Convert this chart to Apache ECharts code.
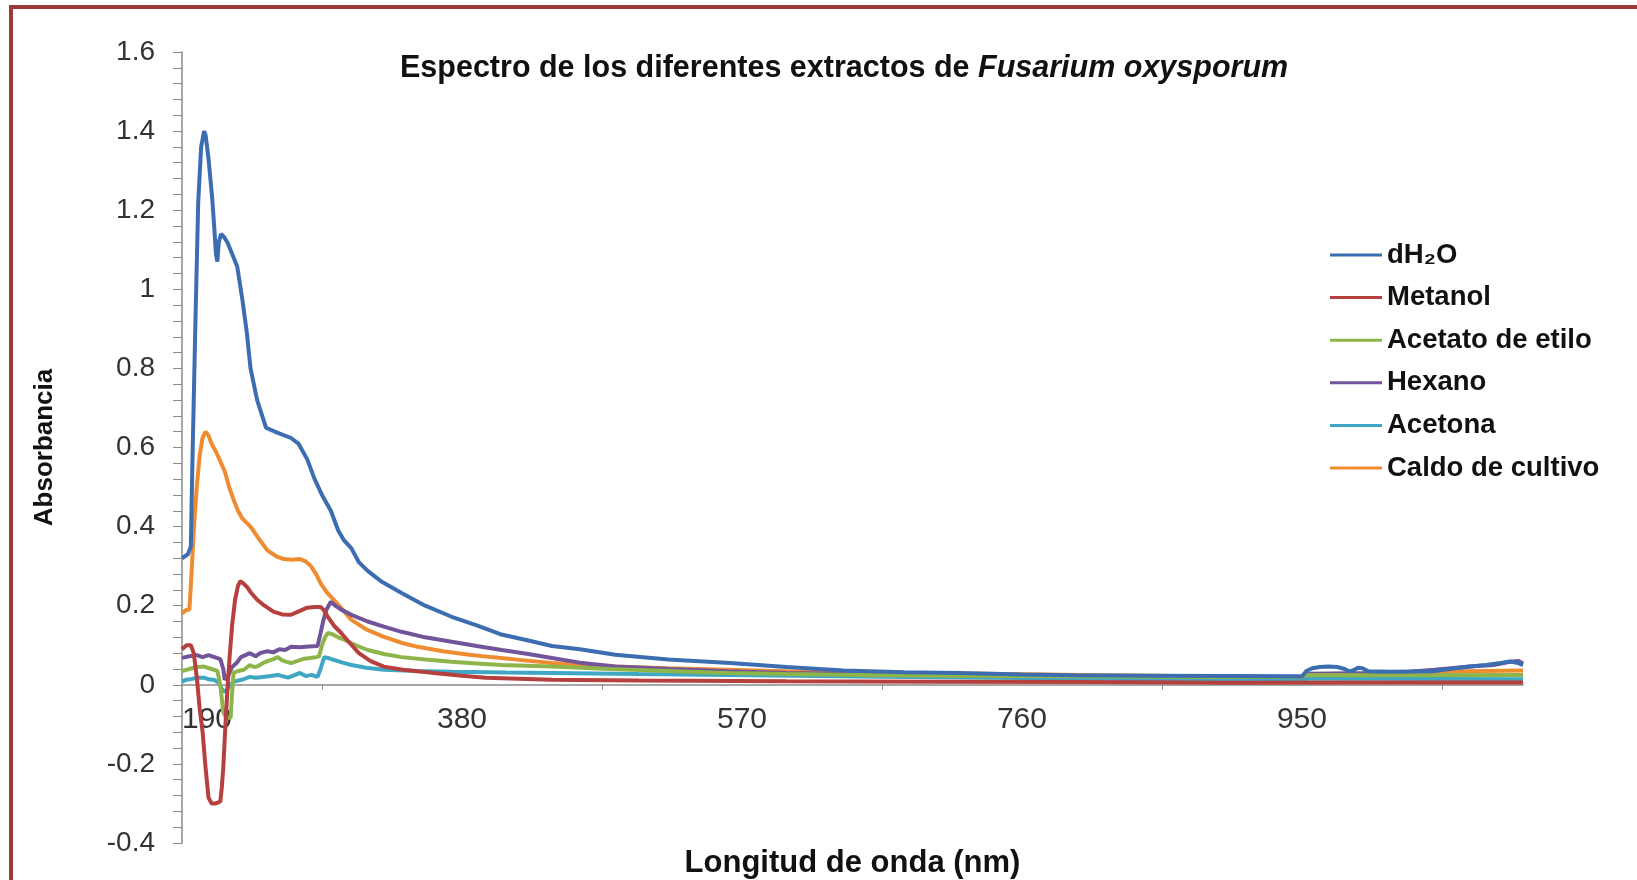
<!DOCTYPE html>
<html>
<head>
<meta charset="utf-8">
<script src="https://cdn.jsdelivr.net/npm/echarts@6/dist/echarts.min.js"></script>
<style>
  html, body { margin: 0; padding: 0; background: #fff; }
  #wrap { position: relative; width: 1637px; height: 880px; overflow: hidden; }
  #chart { position: absolute; left: 0; top: 0; width: 1637px; height: 880px; }
  #bt { position: absolute; left: 9px; top: 5px; width: 1628px; height: 4px; background: #9B3A37; }
  #bl { position: absolute; left: 9px; top: 5px; width: 4px; height: 875px; background: #9B3A37; }
</style>
</head>
<body>
<div id="wrap"><div id="chart"></div><div id="bt"></div><div id="bl"></div></div>
<script>
// ---- Data (wavelength nm, absorbance) ----
const seriesNames = ['dH\u2082O', 'Metanol', 'Acetato de etilo', 'Hexano', 'Acetona', 'Caldo de cultivo'];
const xLabelValues = [190, 380, 570, 760, 950];
const xTickValues = [285, 475, 665, 855, 1045];

const dH2O = [[190,0.32],[194,0.33],[196,0.35],[197,0.55],[199,0.9],[201,1.22],[203,1.36],[205,1.40],[206,1.39],[208,1.33],[210.5,1.23],[212,1.15],[213,1.09],[214,1.07],[215,1.12],[216.5,1.14],[219,1.13],[221,1.117],[224,1.09],[227.5,1.057],[231,0.973],[234,0.89],[236.5,0.80],[241,0.72],[247,0.65],[255,0.637],[264,0.624],[269,0.61],[275,0.57],[280,0.52],[285,0.48],[291,0.44],[296,0.39],[300,0.365],[305,0.345],[310,0.31],[316,0.288],[325,0.262],[339,0.232],[355,0.2],[373,0.172],[390,0.15],[406,0.128],[425,0.112],[441,0.098],[460,0.09],[484,0.076],[520,0.064],[562,0.055],[600,0.045],[639,0.036],[680,0.032],[717,0.03],[760,0.026],[795,0.024],[850,0.023],[900,0.022],[950,0.021],[953,0.035],[957,0.042],[962,0.045],[968,0.046],[974,0.045],[979,0.04],[982,0.034],[985,0.037],[988,0.043],[991,0.042],[995,0.034],[1010,0.033],[1039,0.034],[1050,0.04],[1064,0.046],[1075,0.05],[1085,0.055],[1091,0.059],[1096,0.056],[1100,0.05]];

const metanol = [[190,0.09],[193,0.1],[196,0.1],[198,0.08],[200,0.02],[202,-0.06],[204,-0.12],[206,-0.21],[208,-0.285],[210,-0.30],[213,-0.30],[216,-0.295],[217,-0.26],[218,-0.21],[219.5,-0.1],[221,0.0],[222.5,0.08],[224,0.15],[226,0.215],[228,0.25],[229.6,0.262],[232,0.255],[234,0.248],[237,0.232],[241,0.215],[246,0.2],[252,0.185],[258,0.178],[264,0.177],[270,0.187],[275,0.195],[280,0.197],[284,0.197],[286,0.19],[289,0.172],[293,0.15],[298,0.131],[304,0.105],[310,0.08],[318,0.06],[327,0.046],[340,0.038],[361,0.03],[380,0.023],[396,0.018],[441,0.013],[500,0.011],[600,0.009],[700,0.008],[800,0.007],[900,0.005],[1000,0.006],[1100,0.006]];

const acetato = [[190,0.035],[195,0.04],[200,0.045],[205,0.046],[210,0.04],[214,0.035],[216,0.0],[218,-0.07],[220,-0.083],[223,-0.083],[224,-0.02],[225,0.03],[228,0.035],[232,0.038],[236,0.05],[239,0.045],[241,0.046],[245,0.055],[248,0.06],[252,0.065],[255,0.07],[258,0.062],[261,0.058],[264,0.055],[268,0.06],[272,0.065],[277,0.068],[281,0.07],[283,0.072],[285,0.1],[287,0.12],[289,0.131],[292,0.128],[296,0.12],[300,0.114],[308,0.1],[316,0.088],[327,0.078],[339,0.07],[355,0.064],[373,0.058],[390,0.054],[407,0.05],[441,0.046],[480,0.04],[520,0.035],[560,0.03],[600,0.027],[650,0.025],[700,0.023],[760,0.022],[820,0.021],[880,0.02],[950,0.02],[953,0.025],[1000,0.024],[1100,0.025]];

const hexano = [[190,0.068],[195,0.072],[200,0.075],[204,0.07],[208,0.075],[212,0.07],[216,0.065],[218,0.04],[219,0.013],[221,0.02],[224,0.045],[227,0.055],[230,0.07],[233,0.075],[236,0.08],[240,0.072],[243,0.08],[248,0.085],[252,0.082],[256,0.09],[260,0.088],[264,0.096],[270,0.095],[276,0.097],[282,0.098],[284,0.13],[286,0.164],[288,0.19],[291,0.21],[294,0.2],[298,0.19],[305,0.177],[316,0.16],[327,0.147],[339,0.134],[355,0.12],[373,0.109],[390,0.098],[407,0.088],[425,0.078],[441,0.068],[460,0.056],[484,0.046],[520,0.04],[560,0.034],[600,0.03],[650,0.027],[700,0.025],[760,0.023],[820,0.022],[900,0.021],[950,0.021],[953,0.028],[1000,0.03],[1023,0.033],[1040,0.038],[1064,0.046],[1080,0.05],[1091,0.058],[1097,0.06],[1100,0.054]];

const acetona = [[190,0.008],[193,0.013],[197,0.015],[200,0.018],[205,0.018],[208,0.014],[212,0.012],[215,0.005],[217,-0.01],[219,-0.018],[221,-0.01],[223,0.0],[225,0.008],[230,0.012],[236,0.02],[240,0.018],[245,0.02],[250,0.022],[255,0.025],[258,0.022],[262,0.018],[266,0.024],[270,0.03],[274,0.022],[278,0.025],[282,0.02],[284,0.04],[286.5,0.07],[289,0.068],[293,0.063],[299,0.056],[305,0.05],[315,0.043],[327,0.038],[350,0.035],[373,0.033],[410,0.031],[441,0.03],[500,0.027],[560,0.025],[620,0.022],[700,0.019],[800,0.016],[900,0.012],[950,0.01],[953,0.015],[1000,0.015],[1100,0.014]];

const caldo = [[190,0.18],[193,0.19],[195,0.19],[196,0.25],[197,0.32],[198.5,0.42],[200,0.5],[202,0.58],[204,0.625],[206,0.64],[208,0.63],[210,0.61],[213,0.59],[216,0.565],[219,0.54],[222,0.5],[225,0.468],[228,0.44],[231,0.42],[236.5,0.40],[242,0.37],[248,0.34],[254,0.325],[259,0.318],[265,0.316],[270,0.318],[274,0.312],[277.5,0.30],[281,0.28],[284,0.257],[288,0.235],[293,0.215],[299,0.19],[305,0.164],[315,0.14],[327,0.121],[340,0.105],[350,0.096],[367,0.085],[385,0.076],[400,0.07],[419,0.063],[441,0.055],[484,0.046],[520,0.042],[560,0.038],[600,0.034],[650,0.031],[700,0.029],[750,0.027],[800,0.025],[850,0.023],[900,0.02],[950,0.018],[953,0.025],[1000,0.026],[1023,0.026],[1026,0.032],[1060,0.034],[1100,0.036]];

const seriesData = [dH2O, metanol, acetato, hexano, acetona, caldo];
const colors = ['#3D6DB1', '#B5403D', '#8DB54A', '#71549A', '#3FA6C3', '#EF8B30'];

const FONT = 'Liberation Sans, Arial, Helvetica, sans-serif';
const GRID_TOP = 52, GRID_BOTTOM = 37, Y_MIN = -0.4, Y_MAX = 1.6;
const chart = echarts.init(document.getElementById('chart'), null, { renderer: 'canvas' });

// distance from grid bottom up to the y = 0 line, so the x axis (labels, ticks, name) sits on zero
const gridH = 880 - GRID_TOP - GRID_BOTTOM;
const zeroOffset = gridH * (0 - Y_MIN) / (Y_MAX - Y_MIN);

const option = {
  backgroundColor: '#ffffff',
  animation: false,
  color: colors,
  title: {
    text: '{a|Espectro de los diferentes extractos de }{b|Fusarium oxysporum}',
    left: 395,
    top: 48,
    textStyle: {
      rich: {
        a: { fontFamily: FONT, fontSize: 30.5, fontWeight: 'bold', color: '#111', lineHeight: 32 },
        b: { fontFamily: FONT, fontSize: 30.5, fontWeight: 'bold', fontStyle: 'italic', color: '#111', lineHeight: 32 }
      }
    }
  },
  legend: {
    orient: 'vertical',
    left: 1325,
    top: 236,
    itemWidth: 52,
    itemHeight: 28,
    itemGap: 14.6,
    icon: 'path://M0,12.5 L52,12.5 L52,15.5 L0,15.5 Z',
    textStyle: { fontFamily: FONT, fontSize: 27.5, fontWeight: 'bold', color: '#111', lineHeight: 28 },
    data: seriesNames
  },
  grid: { left: 182, right: 114, top: GRID_TOP, bottom: GRID_BOTTOM, containLabel: false, outerBoundsMode: 'none' },
  xAxis: {
    type: 'value',
    min: 190,
    max: 1100,
    offset: -zeroOffset,
    name: 'Longitud de onda (nm)',
    nameLocation: 'middle',
    nameGap: 163,
    nameTextStyle: { fontFamily: FONT, fontSize: 31, fontWeight: 'bold', color: '#111' },
    axisLine: { onZero: false, lineStyle: { color: '#8a8a8a', width: 1.5 } },
    axisTick: { show: true, customValues: xTickValues, length: 5, lineStyle: { color: '#8a8a8a' } },
    axisLabel: { customValues: xLabelValues, margin: 20, fontFamily: FONT, fontSize: 30, color: '#333', alignMinLabel: 'left' },
    splitLine: { show: false }
  },
  yAxis: {
    type: 'value',
    min: Y_MIN,
    max: Y_MAX,
    interval: 0.2,
    name: 'Absorbancia',
    nameLocation: 'middle',
    nameGap: 124,
    nameTextStyle: { fontFamily: FONT, fontSize: 26, fontWeight: 'bold', color: '#111' },
    axisLine: { show: true, lineStyle: { color: '#8a8a8a', width: 1.5 } },
    axisTick: { show: true, length: 9, lineStyle: { color: '#8a8a8a' } },
    minorTick: { show: true, splitNumber: 5, length: 9, lineStyle: { color: '#8a8a8a' } },
    axisLabel: {
      margin: 27, fontFamily: FONT, fontSize: 28, color: '#333',
      formatter: v => String(parseFloat(v.toFixed(1)))
    },
    splitLine: { show: false }
  },
  series: seriesNames.map((n, i) => ({
    name: n,
    type: 'line',
    data: seriesData[i],
    symbol: 'none',
    smooth: false,
    lineStyle: { width: 4, color: colors[i] },
    itemStyle: { color: colors[i] },
    z: 10 - i
  }))
};
chart.setOption(option);
</script>
</body>
</html>
